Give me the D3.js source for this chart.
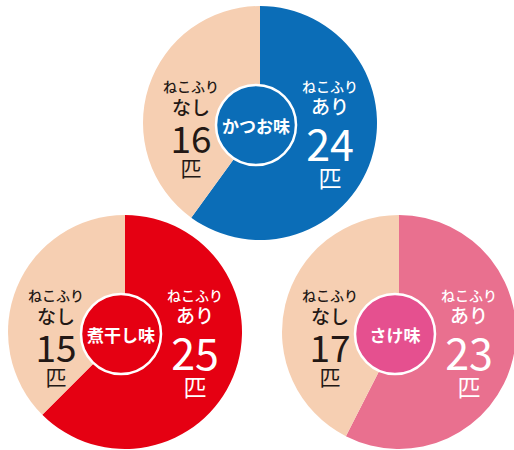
<!DOCTYPE html>
<html>
<head>
<meta charset="utf-8">
<script src="https://cdn.jsdelivr.net/npm/d3@7"></script>
<style>
  body { margin: 0; background: #fff; }
  svg text { font-family: "Noto Sans CJK JP", "Noto Sans", sans-serif; }
</style>
</head>
<body>
<div class="chart"></div>
<script>
// data
const flavors = ["かつお味", "煮干し味", "さけ味"];
const withFuri = [24, 25, 23];      // ねこふり あり
const withoutFuri = [16, 15, 17];   // ねこふり なし
const sliceLabels = ["あり", "なし"];
const unit = "匹";

const mainColors = ["#0b6db7", "#e50012", "#e9708f"];
const centerColors = ["#0b6db7", "#e50012", "#e5508f"];
const peach = "#f6cfb2";

const width = 514, height = 450, r = 117;
const centers = [[260, 123], [125, 332], [399, 332]];

const svg = d3.select('div.chart').append('svg')
    .attr('width', width)
    .attr('height', height);

const pie = d3.pie().sort(null).value(d => d);
const arc = d3.arc().innerRadius(0).outerRadius(r);

function drawPie(i) {
    const [cx, cy] = centers[i];
    const g = svg.append('g').attr('transform', `translate(${cx},${cy})`);
    const colors = [mainColors[i], peach];

    g.selectAll('path')
        .data(pie([withFuri[i], withoutFuri[i]]))
        .enter()
        .append('path')
            .attr('d', arc)
            .attr('fill', (d, k) => colors[k]);

    // ねこふり あり (right, white)
    const right = g.append('g').attr('fill', '#fff').attr('text-anchor', 'middle');
    right.append('text').attr('x', 70).attr('y', -37).attr('dominant-baseline', 'central')
        .attr('font-size', 14).attr('font-weight', 500).text('ねこふり');
    right.append('text').attr('x', 70).attr('y', -18).attr('dominant-baseline', 'central')
        .attr('font-size', 19).attr('font-weight', 500).text(sliceLabels[0]);
    right.append('text').attr('x', 70).attr('y', 19).attr('dominant-baseline', 'central')
        .attr('font-size', 43).attr('font-weight', 400).text(withFuri[i]);
    right.append('text').attr('x', 70).attr('y', 54).attr('dominant-baseline', 'central')
        .attr('font-size', 23).attr('font-weight', 400).text(unit);

    // ねこふり なし (left, dark)
    const left = g.append('g').attr('fill', '#231815').attr('text-anchor', 'middle');
    left.append('text').attr('x', -69).attr('y', -37).attr('dominant-baseline', 'central')
        .attr('font-size', 14).attr('font-weight', 500).text('ねこふり');
    left.append('text').attr('x', -69).attr('y', -17).attr('dominant-baseline', 'central')
        .attr('font-size', 19).attr('font-weight', 500).text(sliceLabels[1]);
    left.append('text').attr('x', -69).attr('y', 14).attr('dominant-baseline', 'central')
        .attr('font-size', 37).attr('font-weight', 400).text(withoutFuri[i]);
    left.append('text').attr('x', -69).attr('y', 44).attr('dominant-baseline', 'central')
        .attr('font-size', 21).attr('font-weight', 400).text(unit);

    // flavour badge
    g.append('circle')
        .attr('cx', -4).attr('cy', 2).attr('r', 40)
        .attr('fill', centerColors[i])
        .attr('stroke', '#fff').attr('stroke-width', 2.5);
    g.append('text')
        .attr('x', -4).attr('y', 2)
        .attr('text-anchor', 'middle').attr('dominant-baseline', 'central')
        .attr('fill', '#fff').attr('font-size', 17).attr('font-weight', 700)
        .text(flavors[i]);
}

[0, 1, 2].forEach(drawPie);
</script>
</body>
</html>
